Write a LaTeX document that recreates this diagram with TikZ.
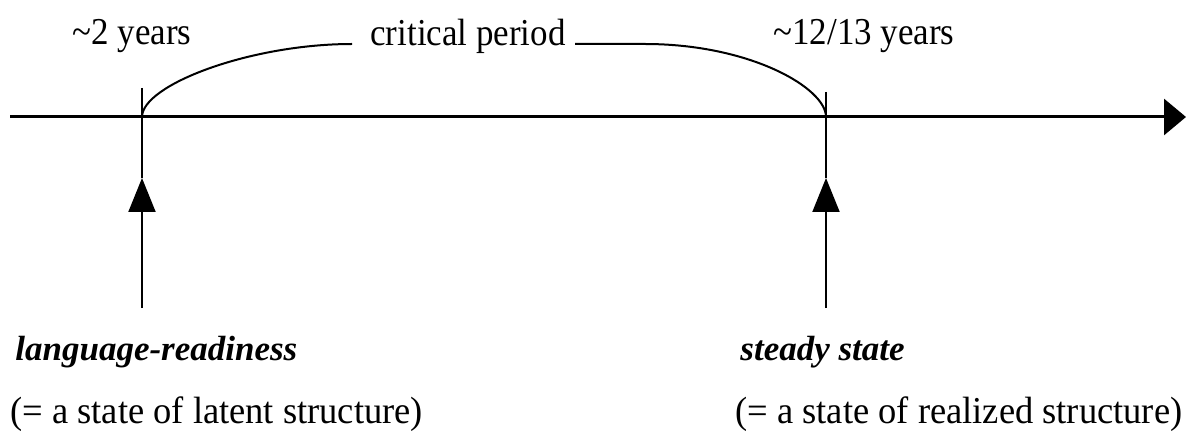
\documentclass[tikz,border=0pt]{standalone}
\usepackage{fontspec}
\setmainfont{Liberation Serif}
\newfontfamily\topfont[FakeStretch=0.92]{Liberation Serif}
\newfontfamily\descfont[FakeStretch=0.96]{Liberation Serif}
\usetikzlibrary{arrows.meta}
\begin{document}
\begin{tikzpicture}[x=0.5pt,y=-0.5pt,
  lbl/.style={inner sep=0pt, font=\topfont\fontsize{19}{22}\selectfont},
  state/.style={inner sep=0pt, anchor=west, font=\fontsize{17.5}{20}\selectfont\bfseries\itshape},
  desc/.style={inner sep=0pt, anchor=west, font=\descfont\fontsize{19}{22}\selectfont},
  axisline/.style={line width=1.5pt, -{Triangle[length=11pt,width=18pt]}},
  thin/.style={line width=1pt},
  uparrow/.style={line width=1pt, -{Triangle[length=17pt,width=13.5pt]}}]
\useasboundingbox (0,0) rectangle (1187,443);
% axis
\coordinate (aL) at (10,117);
\coordinate (aR) at (1186,117);
\draw[axisline] (aL) -- (aR);
% ticks
\coordinate (t1) at (142,117);
\coordinate (t2) at (826,117);
\coordinate (t1top) at (142,88);
\coordinate (t2top) at (826,92);
\draw[thin] (t1top) -- (t1);
\draw[thin] (t2top) -- (t2);
% labels top
\node[lbl] (y2) at (132,36) {\textasciitilde 2 years};
\node[lbl] (cp) at (468,36) {critical period};
\node[lbl] (y12) at (864,36) {\textasciitilde 12/13 years};
% critical period bracket
\coordinate (cl) at (352,44);
\coordinate (cr0) at (575,44);
\coordinate (cr) at (645,44);
\draw[thin] (t1) .. controls (142,85) and (250,44) .. (cl);
\draw[thin] (cr0) -- (cr) .. controls (750,44) and (826,88) .. (t2);
% up arrows
\coordinate (a1tip) at (142,178);
\coordinate (a2tip) at (826,178);
\coordinate (a1foot) at (142,308);
\coordinate (a2foot) at (826,308);
\draw[thin] (t1) -- (a1tip);
\draw[thin] (t2) -- (a2tip);
\draw[uparrow] (a1foot) -- (a1tip);
\draw[uparrow] (a2foot) -- (a2tip);
% bottom labels
\node[state] (lr) at (15,352) {language-readiness};
\node[desc] (lrs) at (10,414) {(= a state of latent structure)};
\node[state] (ss) at (740,352) {steady state};
\node[desc] (sss) at (735,414) {(= a state of realized structure)};
\end{tikzpicture}
\end{document}
